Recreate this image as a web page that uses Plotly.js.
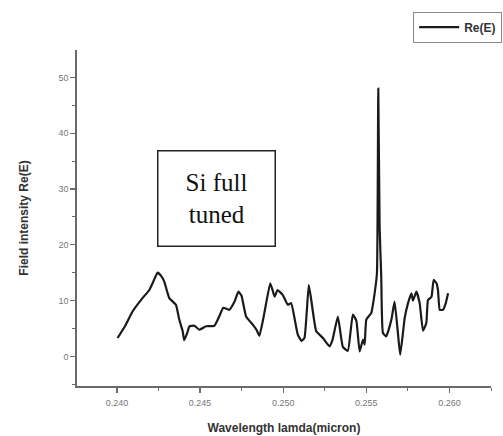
<!DOCTYPE html>
<html>
<head>
<meta charset="utf-8">
<script src="https://cdn.plot.ly/plotly-3.0.1.min.js"></script>
<style>
  html, body { margin: 0; padding: 0; background: #fff; }
  #chart { width: 503px; height: 436px; }
</style>
</head>
<body>
<div id="chart"></div>
<script>
// Wavelength samples (micron)
const wavelength = [
  0.24004, 0.24050, 0.24094, 0.24154, 0.24195, 0.24219, 0.24245, 0.24267, 0.24285, 0.24315,
  0.24355, 0.24375, 0.24395, 0.24405, 0.24423, 0.24436, 0.24466, 0.24496, 0.24536, 0.24586,
  0.24616, 0.24640, 0.24676, 0.24707, 0.24731, 0.24749, 0.24777, 0.24817, 0.24839, 0.24857,
  0.24887, 0.24922, 0.24936, 0.24948, 0.24966, 0.24978, 0.24998, 0.25028, 0.25048, 0.25068,
  0.25088, 0.25110, 0.25128, 0.25154, 0.25169, 0.25199, 0.25239, 0.25279, 0.25297, 0.25329,
  0.25359, 0.25389, 0.25419, 0.25440, 0.25460, 0.25480, 0.25490, 0.25500, 0.25530, 0.25550,
  0.25564, 0.25572, 0.25580, 0.25590, 0.25600, 0.25620, 0.25651, 0.25670, 0.25690, 0.25704,
  0.25731, 0.25751, 0.25771, 0.25781, 0.25801, 0.25821, 0.25841, 0.25861, 0.25871, 0.25892,
  0.25905, 0.25922, 0.25931, 0.25942, 0.25961, 0.25978, 0.25992
];

// Real part of the field, Re(E)
const reE = [
  3.3, 5.5, 8.05, 10.45, 11.9, 13.4, 15.0, 14.4, 13.4, 10.45,
  9.25, 6.6, 4.6, 2.9, 4.2, 5.4, 5.5, 4.8, 5.4, 5.5,
  7.2, 8.7, 8.35, 9.8, 11.6, 10.9, 7.15, 5.7, 4.8, 3.7,
  7.8, 13.1, 11.9, 10.7, 11.9, 11.6, 11.0, 9.25, 9.55, 6.9,
  3.9, 2.8, 3.3, 12.8, 10.1, 4.5, 3.3, 1.8, 3.0, 7.15,
  1.7, 1.0, 7.5, 6.4, 0.9, 3.0, 2.1, 6.6, 7.8, 11.3,
  14.9, 48.0, 23.3, 14.1, 4.2, 3.6, 6.6, 9.8, 4.2, 0.3,
  6.9, 9.55, 11.3, 10.0, 11.6, 9.55, 4.6, 6.0, 10.1, 10.7,
  13.7, 13.1, 11.9, 8.35, 8.35, 9.55, 11.3
];

const seriesName = 'Re(E)';
const xTicks = [0.240, 0.245, 0.250, 0.255, 0.260];
const xTickText = ['0.240', '0.245', '0.250', '0.255', '0.260'];
const yTicks = [0, 10, 20, 30, 40, 50];

const axisColor = '#6a6a6a';

const trace = {
  x: wavelength,
  y: reE,
  type: 'scatter',
  mode: 'lines',
  name: seriesName,
  line: { color: '#1a1a1a', width: 2.2, shape: 'spline', smoothing: 0.4 },
  showlegend: true
};

const layout = {
  width: 503,
  height: 436,
  margin: { l: 77, r: 12, t: 50, b: 50, autoexpand: false },
  paper_bgcolor: '#ffffff',
  plot_bgcolor: '#ffffff',
  font: { family: 'Liberation Sans, Arial, sans-serif', color: '#555' },
  xaxis: {
    range: [0.2376, 0.2625],
    tickvals: xTicks,
    ticktext: xTickText,
    ticks: 'outside',
    ticklen: 5,
    tickwidth: 1.2,
    tickcolor: axisColor,
    ticklabelstandoff: 3,
    minor: { dtick: 0.0025, ticks: 'outside', ticklen: 3, tickwidth: 1, tickcolor: axisColor },
    showline: true,
    linecolor: axisColor,
    linewidth: 1.6,
    showgrid: false,
    zeroline: false,
    tickfont: { size: 9, color: '#777' },
    title: {
      text: 'Wavelength lamda(micron)',
      font: { size: 12, color: '#333', family: 'Liberation Sans, Arial, sans-serif', weight: 'bold' },
      standoff: 16
    }
  },
  yaxis: {
    range: [-5.3, 54.9],
    tickvals: yTicks,
    ticks: 'outside',
    ticklen: 5,
    tickwidth: 1.2,
    tickcolor: axisColor,
    minor: { dtick: 5, ticks: 'outside', ticklen: 3, tickwidth: 1, tickcolor: axisColor },
    showline: true,
    linecolor: axisColor,
    linewidth: 1.6,
    showgrid: false,
    zeroline: false,
    tickfont: { size: 9, color: '#777' },
    title: {
      text: 'Field intensity Re(E)',
      font: { size: 12, color: '#333', family: 'Liberation Sans, Arial, sans-serif', weight: 'bold' },
      standoff: 27
    }
  },
  legend: {
    x: 0.812,
    y: 1.114,
    xanchor: 'left',
    yanchor: 'top',
    bordercolor: '#8a8a8a',
    borderwidth: 1,
    bgcolor: '#ffffff',
    itemwidth: 40,
    tracegroupgap: 0,
    font: { size: 12, color: '#333', weight: 'bold' }
  },
  annotations: [{
    xref: 'paper',
    yref: 'paper',
    x: 0.336,
    y: 0.558,
    xanchor: 'center',
    yanchor: 'middle',
    text: 'Si full<br>tuned',
    showarrow: false,
    width: 114,
    height: 92,
    bordercolor: '#222',
    borderwidth: 1.5,
    bgcolor: '#ffffff',
    font: { family: 'Liberation Serif, Times New Roman, serif', size: 25, color: '#111' }
  }]
};

Plotly.newPlot('chart', [trace], layout, { displayModeBar: false, staticPlot: true });
</script>
</body>
</html>
